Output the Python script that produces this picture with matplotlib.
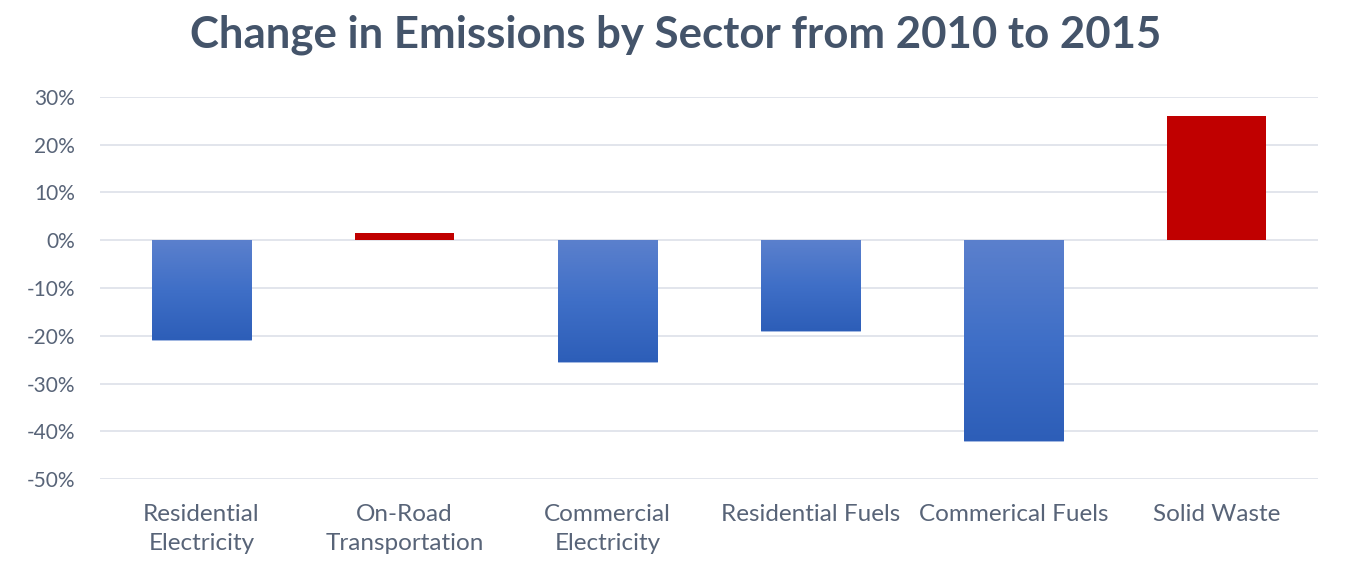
import numpy as np
import matplotlib.pyplot as plt
from matplotlib.colors import LinearSegmentedColormap
from matplotlib.ticker import PercentFormatter

plt.rcParams['font.family'] = ['Lato', 'DejaVu Sans']
plt.rcParams['axes.unicode_minus'] = False

# Percentage change per sector, 2010 -> 2015
sectors = ['Residential\nElectricity', 'On-Road\nTransportation', 'Commercial\nElectricity',
           'Residential Fuels', 'Commerical Fuels', 'Solid Waste']
change = [-20.9, 1.5, -25.5, -19.0, -42.0, 26.0]

text_col = '#586478'
grid_col = '#dfe3ea'
red = '#c00000'
blue_grad = LinearSegmentedColormap.from_list('bluegrad', ['#5b80cd', '#3f6fc7', '#2d5eb8'])

fig = plt.figure(figsize=(13.51, 5.79), dpi=100)
ax = fig.add_axes([0.074, 0.1727, 0.9016, 0.6598])

x = np.arange(len(sectors))
width = 0.49
bars = ax.bar(x, change, width=width, color='none', edgecolor='none', zorder=2)

# negative bars get a vertical gradient, positive ones are solid red
grad = np.linspace(0, 1, 256).reshape(-1, 1)
for b, v in zip(bars, change):
    x0, w = b.get_x(), b.get_width()
    if v >= 0:
        b.set_facecolor(red)
    else:
        im = ax.imshow(grad, cmap=blue_grad, aspect='auto', origin='upper',
                       extent=[x0, x0 + w, v, 0], zorder=2)
        im.set_clip_path(b)
        b.set_edgecolor('#8fa9dc')
        b.set_linewidth(0.6)

ax.set_xlim(-0.5, len(sectors) - 0.5)
ax.set_ylim(-50, 30)
ax.set_yticks(np.arange(-50, 31, 10))
ax.yaxis.set_major_formatter(PercentFormatter(decimals=0))
ax.set_xticks(x)
ax.set_xticklabels(sectors, linespacing=1.45)
ax.grid(axis='y', color=grid_col, linewidth=1.3, zorder=0)
ax.set_axisbelow(True)
for s in ax.spines.values():
    s.set_visible(False)
ax.tick_params(axis='both', length=0, colors=text_col)
ax.tick_params(axis='y', pad=18, labelsize=15)
ax.tick_params(axis='x', pad=18, labelsize=17.5)

fig.text(0.5, 0.94, 'Change in Emissions by Sector from 2010 to 2015', ha='center', va='center',
         fontsize=31.5, fontweight='bold', color='#44546a')

fig.savefig('out.png', dpi=100, facecolor='white')
